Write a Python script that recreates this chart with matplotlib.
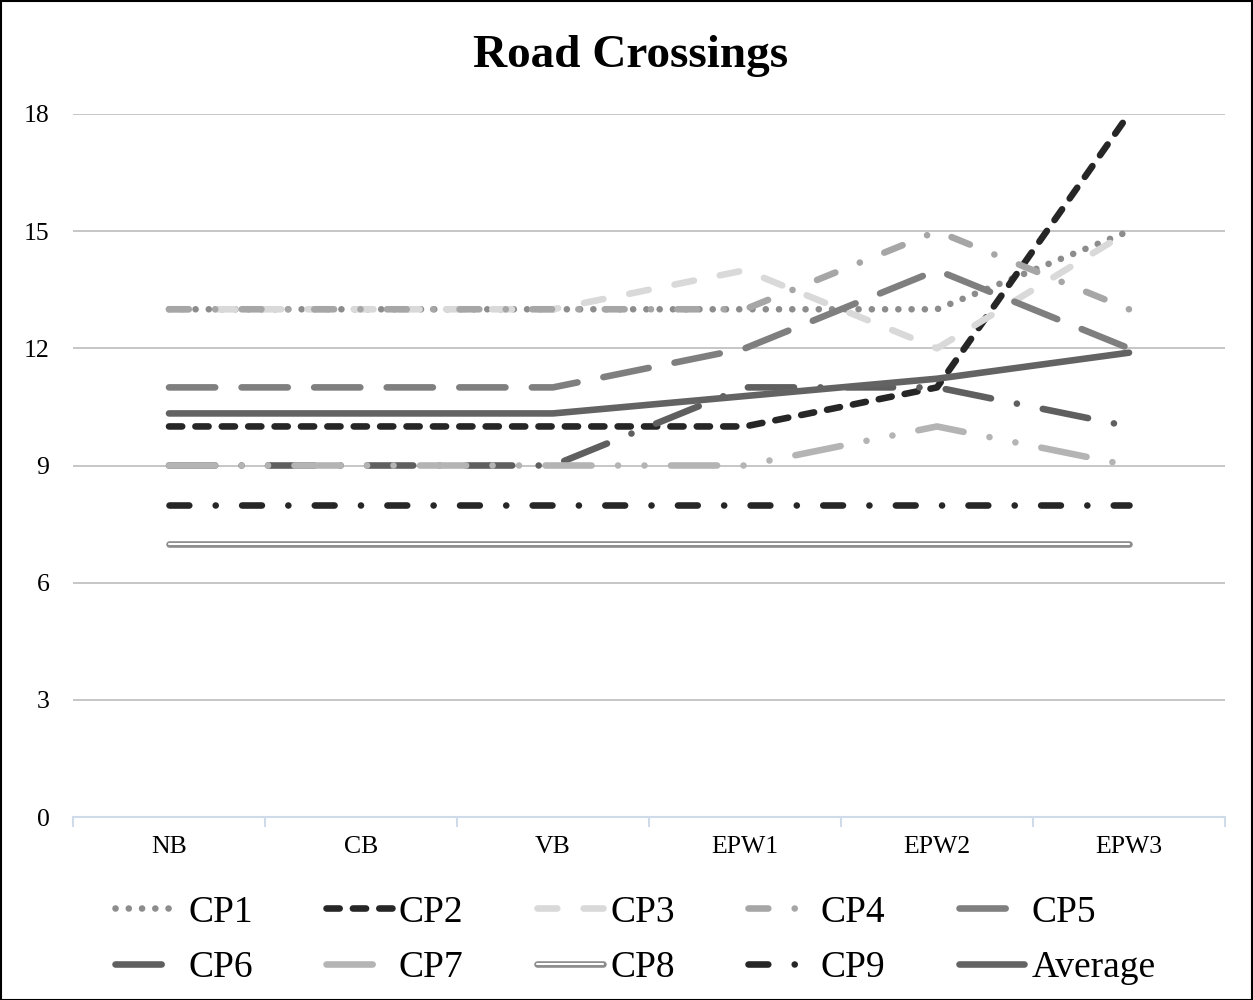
import matplotlib
matplotlib.use('Agg')
import matplotlib.pyplot as plt
import matplotlib.patheffects as pe
from matplotlib.patches import Rectangle

plt.rcParams['font.family'] = 'Liberation Serif'

# == data ========================================================
stages = ['NB', 'CB', 'VB', 'EPW1', 'EPW2', 'EPW3']
series_names = ['CP1', 'CP2', 'CP3', 'CP4', 'CP5', 'CP6', 'CP7', 'CP8', 'CP9', 'Average']
cp1 = [13, 13, 13, 13, 13, 15]
cp2 = [10, 10, 10, 10, 11, 18]
cp3 = [13, 13, 13, 14, 12, 15]
cp4 = [13, 13, 13, 13, 15, 13]
cp5 = [11, 11, 11, 12, 14, 12]
cp6 = [9, 9, 9, 11, 11, 10]
cp7 = [9, 9, 9, 9, 10, 9]
cp8 = [7, 7, 7, 7, 7, 7]
cp9 = [8, 8, 8, 8, 8, 8]
cp_all = [cp1, cp2, cp3, cp4, cp5, cp6, cp7, cp8, cp9]
average = [sum(v[i] for v in cp_all) / len(cp_all) for i in range(len(stages))]
y_ticks = [0, 3, 6, 9, 12, 15, 18]

# == styles (dash patterns in linewidth units, round caps) ========
LW = 4.75
DOT = 0.01
styles = {
    'CP1': dict(color='#8c8c8c', dashes=(DOT, 2)),
    'CP2': dict(color='#262626', dashes=(2, 2)),
    'CP3': dict(color='#d9d9d9', dashes=(3, 4)),
    'CP4': dict(color='#a6a6a6', dashes=(3, 4, DOT, 4)),
    'CP5': dict(color='#7f7f7f', dashes=(7, 4)),
    'CP6': dict(color='#5f5f5f', dashes=(7, 4, DOT, 4)),
    'CP7': dict(color='#b4b4b4', dashes=(7, 4, DOT, 4, DOT, 4)),
    'CP8': dict(color='#8c8c8c', dashes=None),
    'CP9': dict(color='#262626', dashes=(3, 4, DOT, 4)),
    'Average': dict(color='#636363', dashes=None),
}

fig = plt.figure(figsize=(12.53, 10), dpi=100)
ax = fig.add_axes([73 / 1253, 1 - 817 / 1000, (1225 - 73) / 1253, (817 - 114) / 1000])

x = list(range(len(stages)))
lines = []
for name, values in zip(series_names, cp_all + [average]):
    st = styles[name]
    line, = ax.plot(x, values, color=st['color'], lw=LW, label=name,
                    solid_capstyle='round', dash_capstyle='round',
                    solid_joinstyle='round', clip_on=False)
    if st['dashes'] is not None:
        line.set_dashes(st['dashes'])
    if name == 'CP8':
        # double line: grey outline with a white core
        line.set_path_effects([pe.Stroke(linewidth=LW, foreground='#8c8c8c'),
                               pe.Stroke(linewidth=1.5, foreground='white')])
    lines.append(line)

ax.set_xlim(-0.5, len(stages) - 0.5)
ax.set_ylim(0, 18)
ax.set_yticks(y_ticks)
ax.set_yticklabels([str(t) for t in y_ticks], fontsize=18.5)
ax.tick_params(axis='y', length=0, pad=17)

# boundaries get the tick marks, centres get the labels
ax.set_xticks([i - 0.5 for i in range(len(stages) + 1)])
ax.set_xticklabels([])
ax.set_xticks(x, minor=True)
ax.set_xticklabels(stages, minor=True, fontsize=18.5)
ax.tick_params(axis='x', which='major', length=7, width=1.5, color='#d0dbe9')
ax.tick_params(axis='x', which='minor', length=0, pad=14)

ax.grid(axis='y', color='#c6c6c6', lw=1.4)
ax.set_axisbelow(True)
for s in ['top', 'right', 'left']:
    ax.spines[s].set_visible(False)
ax.spines['bottom'].set_color('#d0dbe9')
ax.spines['bottom'].set_linewidth(1.5)
ax.spines['bottom'].set_zorder(1.5)

fig.text(0.503, 1 - 67 / 1000, 'Road Crossings', ha='center', va='baseline',
         fontsize=34, fontweight='bold')

# legend reads row by row: reorder so column-first filling gives that
ncol = 5
order = [r * ncol + c for c in range(ncol) for r in range(2)]
fig.legend([lines[i] for i in order], [series_names[i] for i in order],
           loc='upper left', bbox_to_anchor=(115 / 1253, 0.105), ncol=ncol,
           frameon=False, fontsize=27, handlelength=1.75, handletextpad=0.2,
           columnspacing=1.95, labelspacing=0.56, borderpad=0, borderaxespad=0)

fig.patches.append(Rectangle((0.5 / 1253, 0.5 / 1000), 1 - 1.5 / 1253, 1 - 1.5 / 1000,
                             transform=fig.transFigure, fill=False, ec='black', lw=1.5))

fig.savefig('out.png', dpi=100)
